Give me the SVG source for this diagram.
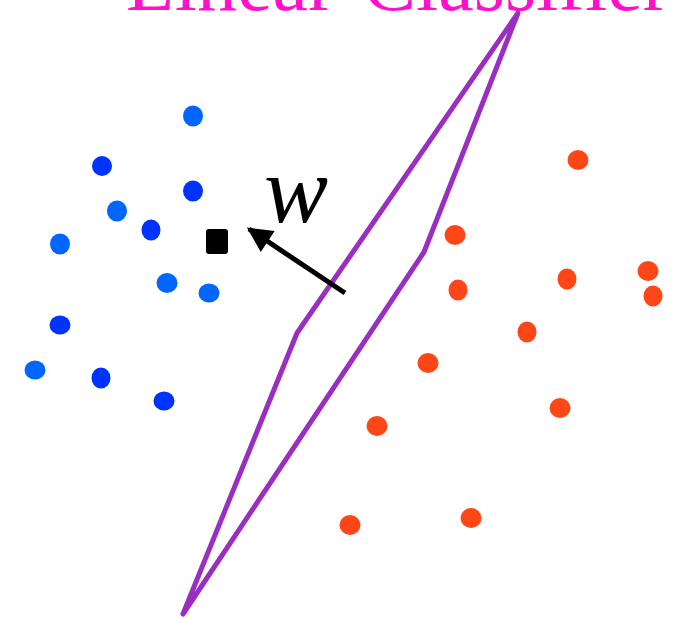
<svg xmlns="http://www.w3.org/2000/svg" width="673" height="622" viewBox="0 0 673 622">
<style>
.lb{fill:#0066ff}
.db{fill:#0033ff}
.rd{fill:#ff4616}
.title{font-family:"Liberation Serif",serif;font-size:80px;fill:#ff11cc}
.w{font-family:"Liberation Serif",serif;font-style:italic;font-size:96px;fill:#000}
</style>
<defs>
<marker id="ah" viewBox="0 0 10 10" refX="9" refY="5" markerWidth="5.5" markerHeight="5" orient="auto" markerUnits="strokeWidth">
<path d="M0,0 L10,5 L0,10 z" fill="#000"/>
</marker>
</defs>
<rect width="673" height="622" fill="#fff"/>
<text class="title" x="126" y="10" word-spacing="8">Linear Classifier</text>
<g id="classifier">
<polygon points="518,13 424,252 183,614 297,333" fill="none" stroke="#9a2ec2" stroke-width="5" stroke-linejoin="round"/>
</g>
<g id="blue">
<ellipse class="lb" cx="193" cy="116" rx="10" ry="10.5"/>
<ellipse class="db" cx="102" cy="166" rx="10" ry="10"/>
<ellipse class="db" cx="193" cy="191" rx="10" ry="10.5"/>
<ellipse class="lb" cx="117" cy="211" rx="10" ry="10.5"/>
<ellipse class="db" cx="151" cy="230" rx="9.5" ry="10.5"/>
<ellipse class="lb" cx="60" cy="244" rx="10" ry="10.5"/>
<ellipse class="lb" cx="167" cy="283" rx="10.5" ry="10"/>
<ellipse class="lb" cx="209" cy="293" rx="10.5" ry="9.5"/>
<ellipse class="db" cx="60" cy="325" rx="10.5" ry="9.5"/>
<ellipse class="lb" cx="35" cy="370" rx="10.5" ry="9.5"/>
<ellipse class="db" cx="101" cy="378" rx="9.5" ry="10.5"/>
<ellipse class="db" cx="164" cy="401" rx="10.5" ry="9.5"/>
</g>
<g id="red">
<ellipse class="rd" cx="578" cy="160" rx="10.5" ry="10"/>
<ellipse class="rd" cx="455" cy="235" rx="10.5" ry="10"/>
<ellipse class="rd" cx="458" cy="290" rx="9.5" ry="10.5"/>
<ellipse class="rd" cx="567" cy="279" rx="9.5" ry="10.5"/>
<ellipse class="rd" cx="648" cy="271" rx="10.5" ry="10"/>
<ellipse class="rd" cx="653" cy="296" rx="9.5" ry="10.5"/>
<ellipse class="rd" cx="527" cy="332" rx="9.5" ry="10.5"/>
<ellipse class="rd" cx="428" cy="363" rx="10.5" ry="10"/>
<ellipse class="rd" cx="560" cy="408" rx="10.5" ry="10"/>
<ellipse class="rd" cx="377" cy="426" rx="10.5" ry="10"/>
<ellipse class="rd" cx="350" cy="525" rx="10.5" ry="10"/>
<ellipse class="rd" cx="471" cy="518" rx="10.5" ry="10"/>
</g>
<g id="w-point">
<rect x="206" y="229" width="22" height="25" rx="3" fill="#000"/>
</g>
<g id="connectors">
<line x1="345" y1="293" x2="249" y2="229" stroke="#000" stroke-width="5" marker-end="url(#ah)"/>
</g>
<text class="w" x="264" y="222">w</text>
</svg>
